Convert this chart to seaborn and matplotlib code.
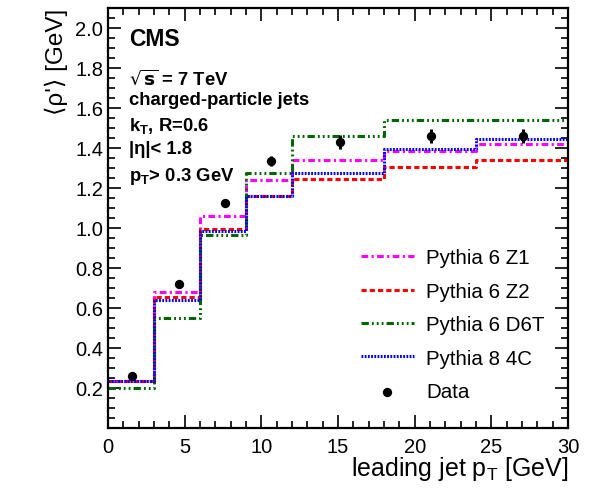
import numpy as np
import matplotlib
matplotlib.use("Agg")
import matplotlib.pyplot as plt
import seaborn as sns
from matplotlib.ticker import MultipleLocator

# bin edges of leading jet pT [GeV]
bin_edges = [0, 3, 6, 9, 12, 18, 24, 30]

# MC predictions per bin
pythia6_z1 = [0.233, 0.678, 1.058, 1.237, 1.338, 1.382, 1.420]
pythia6_z2 = [0.233, 0.655, 0.995, 1.160, 1.242, 1.303, 1.340]
pythia6_d6t = [0.200, 0.547, 0.965, 1.275, 1.460, 1.537, 1.537]
pythia8_4c = [0.233, 0.637, 0.983, 1.160, 1.273, 1.393, 1.445]

# data points
data_x = [1.6, 4.65, 7.63, 10.6, 15.1, 21.05, 27.05]
data_y = [0.260, 0.718, 1.125, 1.333, 1.428, 1.458, 1.457]
data_err = [0.008, 0.012, 0.015, 0.025, 0.035, 0.035, 0.035]

sns.set_theme(style="ticks", rc={"axes.edgecolor": "black", "xtick.color": "black",
                                 "ytick.color": "black", "text.color": "black",
                                 "axes.labelcolor": "black"})
plt.rcParams['font.family'] = ['Liberation Sans', 'DejaVu Sans']

fig = plt.figure(figsize=(5.93, 4.89), dpi=100)
ax = fig.add_axes([0.182, 0.123, 0.776, 0.859])

models = [
    ("Pythia 6 Z1", pythia6_z1, "#ff00ff", (0, (2.2, 1.1, 0.7, 1.1))),
    ("Pythia 6 Z2", pythia6_z2, "#ff0000", (0, (1.7, 1.0))),
    ("Pythia 6 D6T", pythia6_d6t, "#006600", (0, (2.4, 1.0, 0.6, 1.0, 0.6, 1.0, 0.6, 1.0))),
    ("Pythia 8 4C", pythia8_4c, "#0000ff", (0, (0.6, 0.45))),
]

for name, vals, col, ls in models:
    step_y = list(vals) + [vals[-1]]
    sns.lineplot(x=bin_edges, y=step_y, ax=ax, color=col, linewidth=2.2,
                 drawstyle="steps-post", label=name, estimator=None, sort=False)
    ax.lines[-1].set_linestyle(ls)

ax.errorbar(data_x, data_y, yerr=data_err, fmt="none", ecolor="black", elinewidth=2.2, capsize=0)
sns.scatterplot(x=data_x, y=data_y, ax=ax, color="black", s=45, edgecolor="black",
                linewidth=0, label="Data", zorder=5)

ax.set_xlim(0, 30)
ax.set_ylim(0, 2.1)
ax.xaxis.set_major_locator(MultipleLocator(5))
ax.xaxis.set_minor_locator(MultipleLocator(1))
ax.yaxis.set_minor_locator(MultipleLocator(0.05))
ax.set_yticks(np.arange(0.2, 2.01, 0.2))
ax.tick_params(which="both", direction="in", top=True, right=True, width=1.2, labelsize=14.5)
ax.tick_params(which="major", length=9.5)
ax.tick_params(which="minor", length=5)
ax.tick_params(axis="x", pad=6.5)
for sp in ax.spines.values():
    sp.set_linewidth(1.6)

ax.set_xlabel(r"leading jet p$_\mathregular{T}$ [GeV]", fontsize=18, loc="right", labelpad=-1)
ax.set_ylabel("⟨ρ'⟩ [GeV]", fontsize=17.5, loc="top", labelpad=5)

ax.text(0.045, 0.912, "CMS", transform=ax.transAxes, fontsize=16.5, fontweight="bold")
info = [
    (0.82, r"$\mathbf{\sqrt{s}}$ = 7 TeV"),
    (0.77, "charged-particle jets"),
    (0.71, r"k$_\mathregular{T}$, R=0.6"),
    (0.655, "|η|< 1.8"),
    (0.59, r"p$_\mathregular{T}$> 0.3 GeV"),
]
for ypos, txt in info:
    ax.text(0.045, ypos, txt, transform=ax.transAxes, fontsize=13.3, fontweight="bold")

leg = ax.legend(loc="lower right", bbox_to_anchor=(0.99, 0.02), frameon=False, fontsize=14.8,
                handlelength=2.6, labelspacing=0.7, handletextpad=0.6)

fig.savefig("out.png", dpi=100)
